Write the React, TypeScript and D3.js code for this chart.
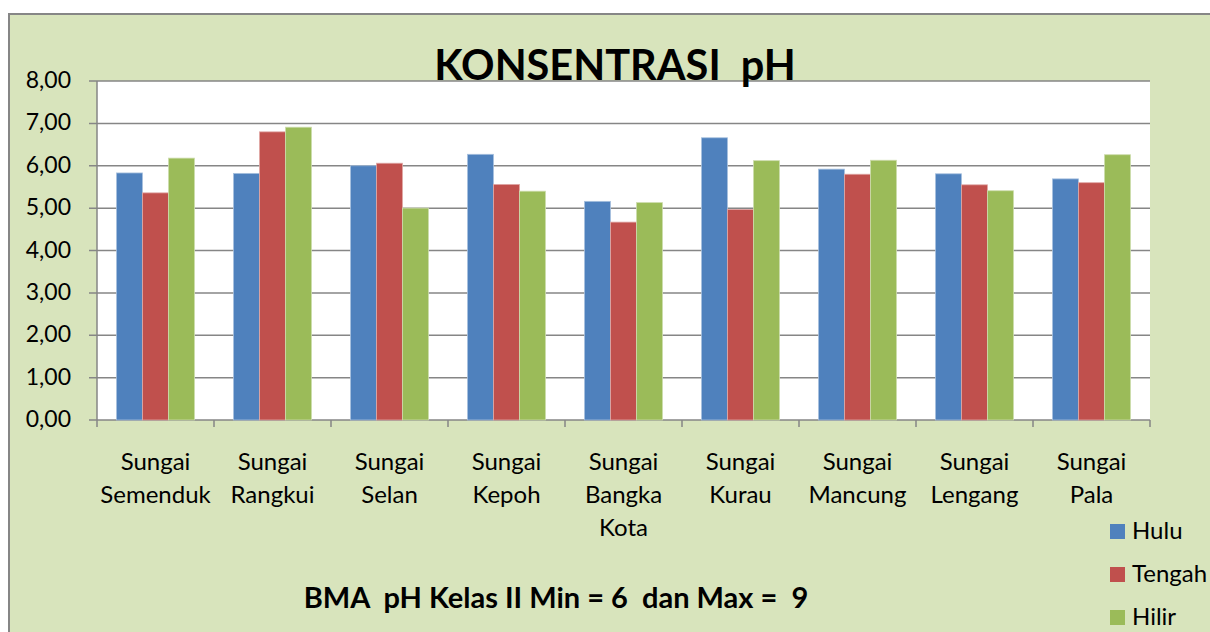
import React from 'react';
import * as d3 from 'd3';

const categories = [
  ['Sungai', 'Semenduk'],
  ['Sungai', 'Rangkui'],
  ['Sungai', 'Selan'],
  ['Sungai', 'Kepoh'],
  ['Sungai', 'Bangka', 'Kota'],
  ['Sungai', 'Kurau'],
  ['Sungai', 'Mancung'],
  ['Sungai', 'Lengang'],
  ['Sungai', 'Pala'],
];
const seriesNames = ['Hulu', 'Tengah', 'Hilir'];
const colors = ['#4f81bd', '#c0504d', '#9bbb59'];
const edgeColors = ['#a7c0de', '#e0a8a6', '#cddcac'];
const hulu = [5.83, 5.82, 6.0, 6.27, 5.16, 6.66, 5.92, 5.81, 5.69];
const tengah = [5.36, 6.8, 6.06, 5.56, 4.67, 4.97, 5.8, 5.55, 5.6];
const hilir = [6.18, 6.91, 5.0, 5.4, 5.13, 6.12, 6.13, 5.41, 6.26];
const yTicks = [0, 1, 2, 3, 4, 5, 6, 7, 8];

const W = 1210;
const H = 632;
const font = 'Lato, "Open Sans", sans-serif';

export default function App() {
  const values = [hulu, tengah, hilir];
  const left = 97;
  const right = 1150;
  const top = 81;
  const bottom = 420;

  const x = d3.scaleBand<number>()
    .domain(d3.range(categories.length))
    .range([left, right])
    .paddingInner(0)
    .paddingOuter(0);
  // excel gap width 150% -> bars fill 3 / 4.5 of the band
  const x1 = d3.scaleBand<number>()
    .domain([0, 1, 2])
    .range([0, x.bandwidth()])
    .paddingOuter(0.75)
    .paddingInner(0);
  const y = d3.scaleLinear().domain([0, 8]).range([bottom, top]);
  const fmt = (v: number) => v.toFixed(2).replace('.', ',');

  return (
    <svg width={W} height={H} style={{ position: 'absolute', left: 0, top: 0 }} fontFamily={font}>
      <rect x={9} y={14} width={W} height={H} fill="#d8e4bc" stroke="#868686" strokeWidth={2} />
      <rect x={left} y={top} width={right - left} height={bottom - top} fill="#fff" />

      {yTicks.map((t) => (
        <g key={t}>
          <line x1={left - 8} x2={right} y1={y(t)} y2={y(t)} stroke="#868686" strokeWidth={1.5} />
          <text x={71} y={y(t) + 7} textAnchor="end" fontSize={23} fill="#000">{fmt(t)}</text>
        </g>
      ))}
      <line x1={left} x2={left} y1={top} y2={bottom} stroke="#868686" strokeWidth={1.5} />

      {categories.map((_, i) => (
        <line key={i} x1={x(i)!} x2={x(i)!} y1={bottom} y2={bottom + 7} stroke="#868686" strokeWidth={1.5} />
      ))}
      <line x1={right} x2={right} y1={bottom} y2={bottom + 7} stroke="#868686" strokeWidth={1.5} />

      {values.map((vals, s) =>
        vals.map((v, i) => (
          <rect
            key={s + '-' + i}
            x={x(i)! + x1(s)!}
            y={y(v)}
            width={x1.bandwidth()}
            height={bottom - y(v)}
            fill={colors[s]}
            stroke={edgeColors[s]}
            strokeWidth={0.8}
          />
        ))
      )}

      {categories.map((lines, i) => (
        <text key={i} textAnchor="middle" fontSize={24} fill="#000">
          {lines.map((l, j) => (
            <tspan key={j} x={x(i)! + x.bandwidth() / 2} y={470 + j * 33}>{l}</tspan>
          ))}
        </text>
      ))}

      <text x={615} y={80} textAnchor="middle" fontSize={41.5} fontWeight="bold" fill="#000">
        KONSENTRASI{'\u00a0\u00a0'}pH
      </text>

      <text x={556} y={608} textAnchor="middle" fontSize={29} fontWeight="bold" fill="#000">
        {'BMA\u00a0\u00a0pH Kelas II Min = 6\u00a0\u00a0dan Max =\u00a0\u00a09'}
      </text>

      {seriesNames.map((n, s) => (
        <g key={n}>
          <rect x={1110} y={524 + s * 43} width={15} height={15} fill={colors[s]} />
          <text x={1132} y={538.5 + s * 43} fontSize={24} fill="#000">{n}</text>
        </g>
      ))}
    </svg>
  );
}
